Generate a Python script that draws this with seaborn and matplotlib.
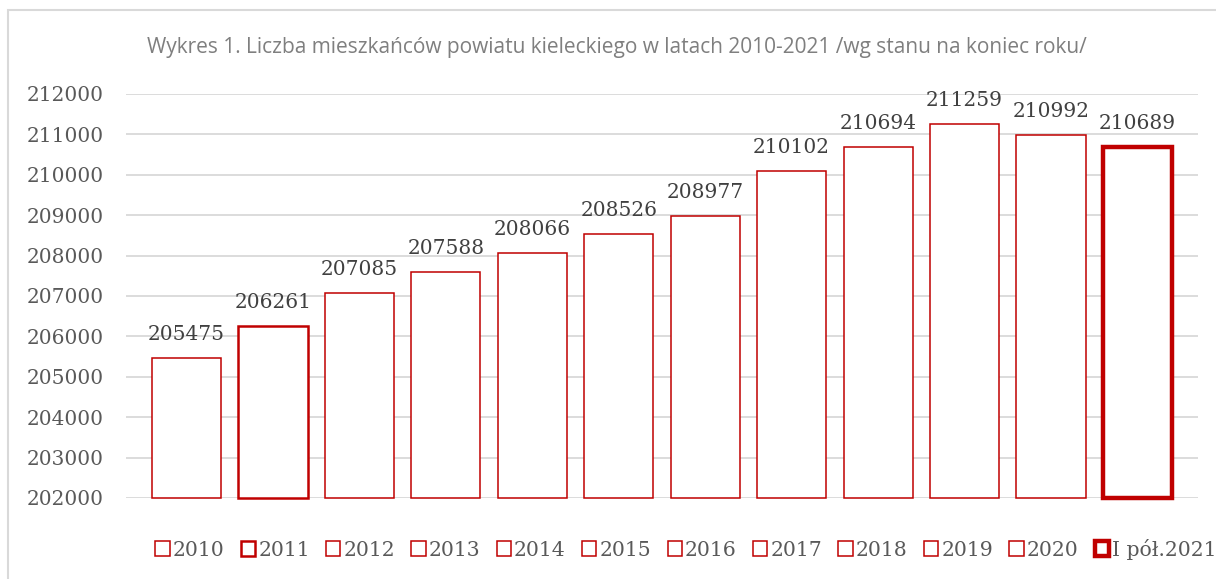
import seaborn as sns
import matplotlib.pyplot as plt
import pandas as pd
from matplotlib.patches import Rectangle
from matplotlib.ticker import StrMethodFormatter

sns.set_theme(style="white")
plt.rcParams['font.family'] = ['DejaVu Serif']

# data
years = ['2010', '2011', '2012', '2013', '2014', '2015', '2016', '2017',
         '2018', '2019', '2020', 'I pół.2021']
residents = [205475, 206261, 207085, 207588, 208066, 208526, 208977, 210102,
             210694, 211259, 210992, 210689]
edge_widths = [1.1, 1.8, 1.1, 1.1, 1.1, 1.1, 1.1, 1.1, 1.1, 1.1, 1.1, 3.2]
base = 202000

title = 'Wykres 1. Liczba mieszkańców powiatu kieleckiego w latach 2010-2021 /wg stanu na koniec roku/'
red = '#C00000'

df = pd.DataFrame({'rok': years, 'height': [v - base for v in residents]})

fig = plt.figure(figsize=(12.16, 5.79), dpi=100)
ax = fig.add_axes([0.1036, 0.1399, 0.8816, 0.6978])

sns.barplot(data=df, x='rok', y='height', hue='rok', bottom=base,
            palette=['white'] * len(years), edgecolor=red, linewidth=1.1,
            width=0.8, legend=False, ax=ax)

for cont, lw, v in zip(ax.containers, edge_widths, residents):
    for p in cont:
        p.set_linewidth(lw)
        p.set_clip_on(False)
    ax.bar_label(cont, labels=[str(v)], padding=10, fontsize=14.5,
                 color='#404040', clip_on=False)

ax.set_ylim(base, 212000)
ax.set_xlim(-0.7, 11.7)
ax.set_yticks(range(202000, 212001, 1000))
ax.yaxis.set_major_formatter(StrMethodFormatter('{x:.0f}'))
ax.tick_params(axis='y', length=0, pad=16, labelsize=14.5, labelcolor='#595959')
ax.tick_params(axis='x', bottom=False, labelbottom=False)
ax.set_xlabel('')
ax.set_ylabel('')
ax.yaxis.grid(True, color='#D9D9D9', linewidth=1.3)
ax.set_axisbelow(True)
sns.despine(ax=ax, left=True, bottom=True)

# legend with square outlined markers
handles = [Rectangle((0, 0), 1, 1, facecolor='white', edgecolor=red, linewidth=lw)
           for lw in edge_widths]
fig.legend(handles, years, loc='center', bbox_to_anchor=(686 / 1216, 1 - 549 / 579),
           ncol=len(years), frameon=False, fontsize=14.7, labelcolor='#595959',
           handlelength=0.7, handleheight=0.7, handletextpad=0.15,
           columnspacing=0.8, borderpad=0)

fig.text(617 / 1216, 1 - 47 / 579, title, ha='center', va='center',
         fontsize=15, color='#7F7F7F', family='Open Sans')

# chart frame
fig.add_artist(Rectangle((8 / 1216, -0.05), 1.1, 1 - 10 / 579 + 0.05, fill=False,
                         edgecolor='#D9D9D9', linewidth=1.5, transform=fig.transFigure))

fig.savefig('out.png', dpi=100)
